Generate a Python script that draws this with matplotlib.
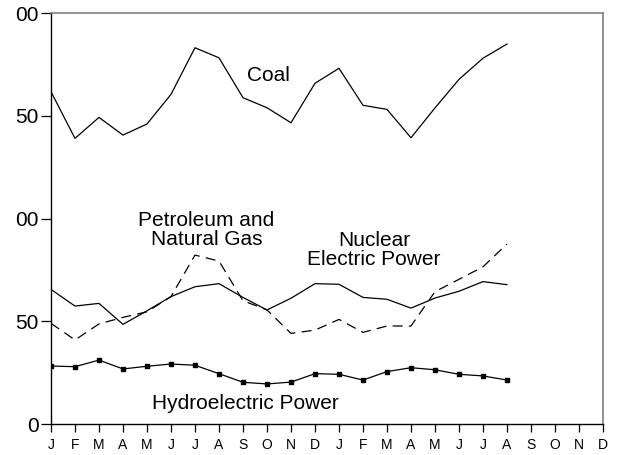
"""Monthly energy production by source, two-year run."""

import matplotlib.pyplot as plt

plt.rcParams["font.family"] = ["Liberation Sans", "DejaVu Sans"]

MONTHS = list("JFMAMJJASOND") * 2
Y_TICKS = [0, 50, 100, 150, 200]
Y_TICK_LABELS = ["0", "50", "00", "50", "00"]

coal = [161.7, 139.0, 149.2, 140.6, 146.0, 160.4, 183.1, 178.2, 158.8, 153.9,
        146.6, 165.8, 173.1, 155.1, 153.1, 139.3, 153.8, 167.7, 178.0, 184.9]
nuclear = [65.5, 57.4, 58.7, 48.5, 55.1, 62.0, 66.8, 68.3, 61.6, 55.5,
           61.2, 68.3, 68.0, 61.6, 60.7, 56.4, 61.3, 64.6, 69.3, 67.8]
petroleum = [49.0, 40.9, 48.7, 51.9, 54.6, 62.0, 82.2, 79.3, 60.0, 55.5,
             44.1, 45.7, 50.9, 44.6, 47.7, 47.7, 64.4, 70.4, 76.5, 87.6]
hydro = [28.2, 27.9, 31.1, 26.8, 28.1, 29.2, 28.6, 24.5, 20.3, 19.5,
         20.4, 24.5, 24.2, 21.4, 25.5, 27.4, 26.4, 24.2, 23.4, 21.4]

fig = plt.figure(figsize=(6.18, 4.55), dpi=100)
ax = fig.add_axes([0.0825, 0.0681, 0.8932, 0.9033])

xs = range(len(coal))
ax.plot(xs, coal, color="black", lw=0.9)
ax.plot(xs, nuclear, color="black", lw=0.9)
ax.plot(xs, petroleum, color="black", lw=0.9, dashes=(8, 5))
ax.plot(xs, hydro, color="black", lw=0.9, marker="s", markersize=3.5)

ax.text(9.04, 169.6, "Coal", fontsize=15, ha="center", va="center")
ax.text(6.48, 94.4, "Petroleum and\nNatural Gas", fontsize=15,
        ha="center", va="center", linespacing=1.0)
ax.text(13.46, 84.7, "Nuclear\nElectric Power", fontsize=15,
        ha="center", va="center", linespacing=1.0)
ax.text(8.1, 10.2, "Hydroelectric Power", fontsize=15, ha="center", va="center")

ax.set_xlim(0, len(MONTHS) - 1)
ax.set_ylim(0, 200)
ax.set_xticks(range(len(MONTHS)))
ax.set_xticklabels(MONTHS, fontsize=10)
ax.set_yticks(Y_TICKS)
ax.set_yticklabels(Y_TICK_LABELS, fontsize=15)
ax.tick_params(axis="x", length=6, width=0.9, pad=4)
ax.tick_params(axis="y", length=7, width=0.9, pad=2)

for side in ("left", "bottom"):
    ax.spines[side].set_color("black")
    ax.spines[side].set_linewidth(1.0)
for side in ("top", "right"):
    ax.spines[side].set_color("#808080")
    ax.spines[side].set_linewidth(1.2)

fig.savefig("out.png", dpi=100)
